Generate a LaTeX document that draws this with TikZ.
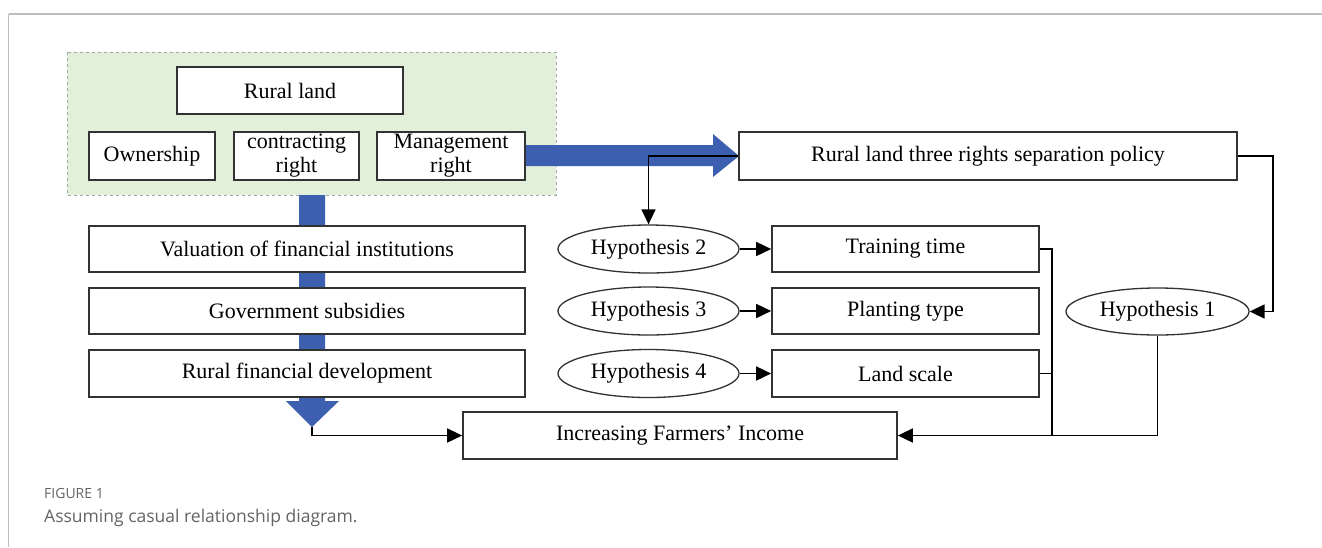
\documentclass[tikz,border=0pt]{standalone}
\usepackage{fontspec}
\setmainfont{Liberation Serif}
\newfontfamily\capfont{Open Sans}
\usetikzlibrary{shapes.geometric,arrows.meta}
\definecolor{bluearr}{RGB}{60,95,175}
\definecolor{greenbg}{RGB}{226,239,218}
\definecolor{boxline}{RGB}{50,50,50}
\definecolor{framegray}{RGB}{190,190,190}
\definecolor{capgray}{RGB}{100,100,100}
\tikzset{
  box/.style={draw=boxline, line width=1.7pt, fill=white, rectangle, inner sep=0pt,
    font=\fontsize{22}{24}\selectfont, align=center},
  hyp/.style={draw=boxline, line width=1.3pt, fill=white, ellipse, inner sep=0pt,
    minimum width=181pt, minimum height=48pt, font=\fontsize{22}{24}\selectfont},
  conn/.style={draw=black, line width=1.7pt, -{Triangle[length=15pt,width=14pt]}},
  plain/.style={draw=black, line width=1.7pt},
  blueshape/.style={fill=bluearr, draw=none}
}
\begin{document}
\begin{tikzpicture}[x=1pt,y=-1pt]
\useasboundingbox (0,0) rectangle (1322,547);
% frame
\draw[framegray, line width=1.5pt] (8.5,14) -- (1322,14);
\draw[framegray, line width=1.5pt] (8.5,14) -- (8.5,547);
% green region
\draw[fill=greenbg, draw=gray!70, dashed, line width=0.8pt] (67,52) rectangle (556,195);
% blue arrows
\path[blueshape] (525,145) -- (713,145) -- (713,134) -- (739,156) -- (713,177) -- (713,166) -- (525,166) -- cycle;
\path[blueshape] (299,195) -- (325,195) -- (325,401) -- (339,401) -- (312,427) -- (286,401) -- (299,401) -- cycle;
\coordinate (btip) at (312,427);
% nodes
\node[box, minimum width=226pt, minimum height=47pt] (rural) at (290,90.5) {Rural land};
\node[box, minimum width=126pt, minimum height=48pt] (own) at (152,156) {Ownership};
\node[box, minimum width=125pt, minimum height=48pt] (contr) at (296.5,156) {contracting\\right};
\node[box, minimum width=148pt, minimum height=48pt] (mgmt) at (451,156) {Management\\right};
\node[box, minimum width=498pt, minimum height=48pt] (policy) at (988,156) {Rural land three rights separation policy};
\node[box, minimum width=436pt, minimum height=46pt] (val) at (307,249) {Valuation of financial institutions};
\node[box, minimum width=436pt, minimum height=46pt] (gov) at (307,311) {Government subsidies};
\node[box, minimum width=436pt, minimum height=47pt] (rfd) at (307,373.5) {Rural financial development};
\node[hyp] (h2) at (648.5,249) {Hypothesis 2};
\node[hyp] (h3) at (648.5,311) {Hypothesis 3};
\node[hyp] (h4) at (648.5,373.5) {Hypothesis 4};
\node[box, minimum width=267pt, minimum height=46pt] (train) at (905.5,249) {Training time};
\node[box, minimum width=267pt, minimum height=46pt] (plant) at (905.5,311) {Planting type};
\node[box, minimum width=267pt, minimum height=47pt] (land) at (905.5,373.5) {Land scale};
\node[hyp, minimum width=183pt, minimum height=47pt] (h1) at (1157.5,311.5) {Hypothesis 1};
\node[box, minimum width=434pt, minimum height=47pt] (inc) at (680,435.5) {Increasing Farmers' Income};
% connectors
\draw[conn] (policy.west) -| (h2.north);
\draw[conn] (policy.east) -- ++(35,0) |- (h1.east);
\draw[conn] (h2.east) -- (train.west);
\draw[conn] (h3.east) -- (plant.west);
\draw[conn] (h4.east) -- (land.west);
\draw[plain] (train.east) -- ++(12,0) coordinate (j) -- (j |- inc.east);
\draw[plain] (land.east) -- (land.east -| j);
\draw[conn] (h1.south) |- (inc.east);
\draw[conn] (btip) |- (inc.west);
% caption
\node[anchor=base west, inner sep=0pt, text=capgray, font=\capfont\fontsize{14}{16}\selectfont] (figlab) at (44,498) {FIGURE 1};
\node[anchor=base west, inner sep=0pt, text=capgray, font=\capfont\fontsize{17.5}{20}\selectfont] (figcap) at (44,522) {Assuming casual relationship diagram.};
\end{tikzpicture}
\end{document}
